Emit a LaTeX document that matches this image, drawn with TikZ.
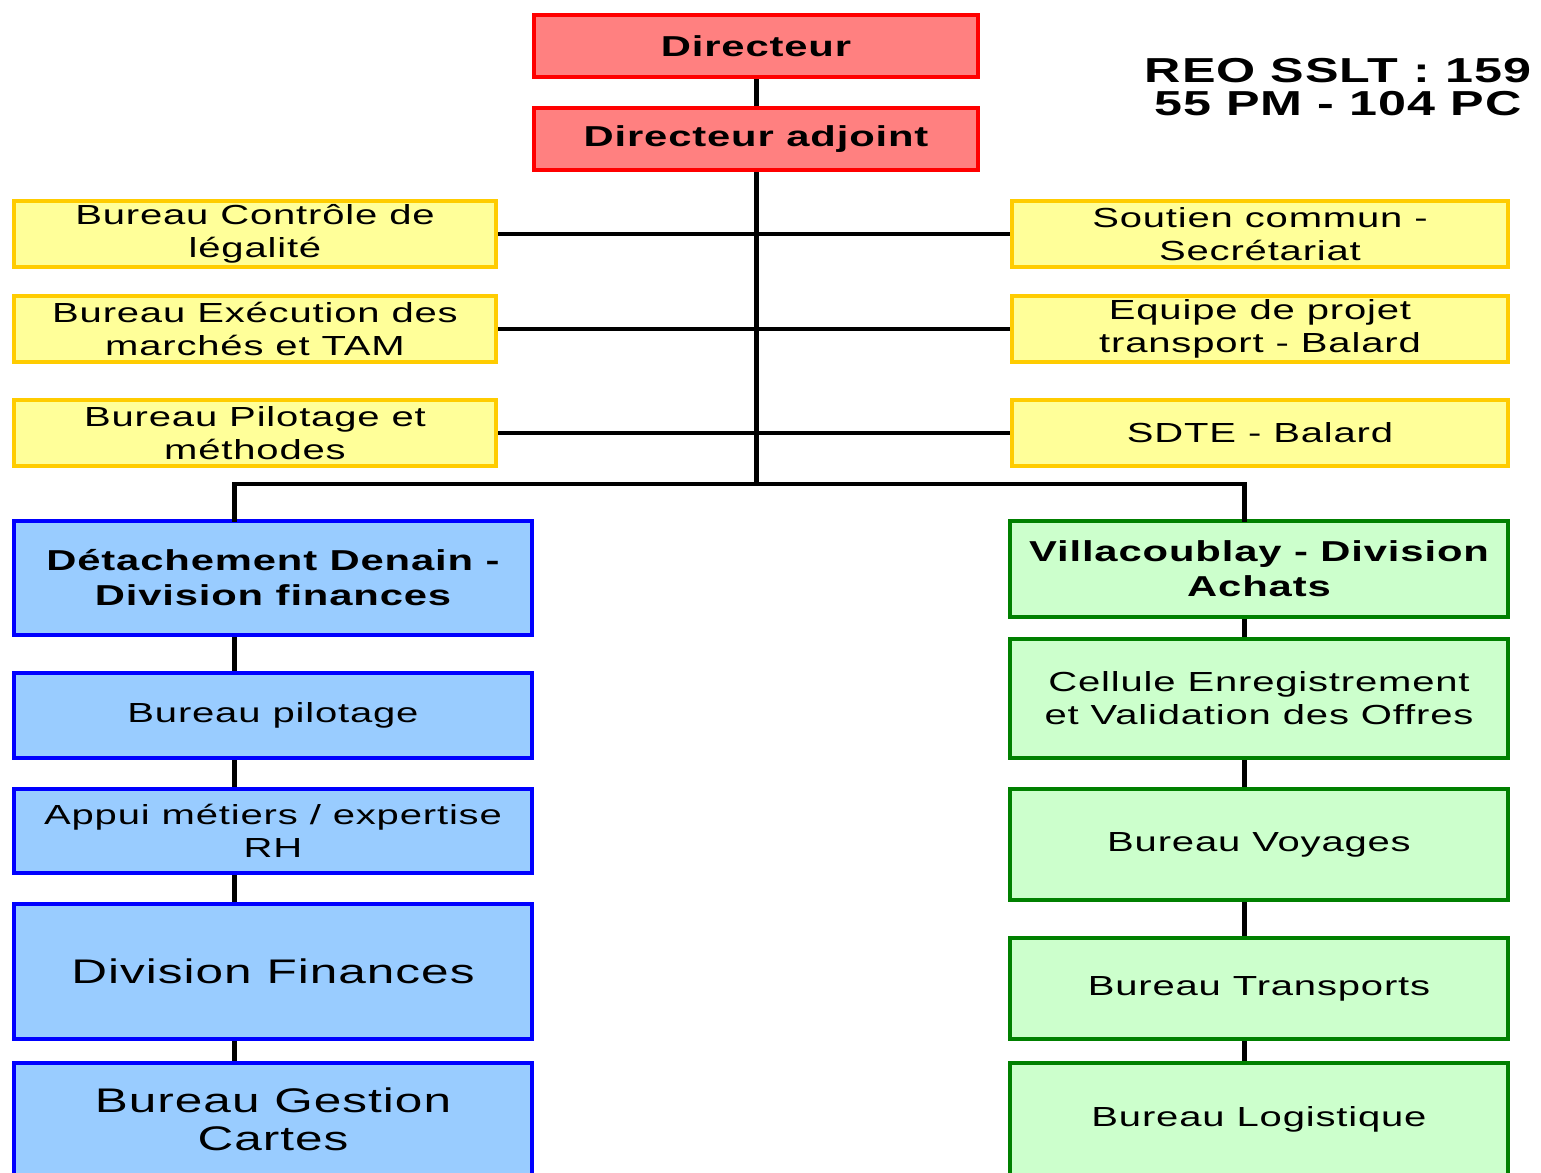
\documentclass[tikz,border=0pt]{standalone}
\usepackage{fontspec}
\setmainfont{Liberation Sans}[FakeStretch=1.45,LetterSpace=3]
\usetikzlibrary{positioning}
\definecolor{rougeclair}{HTML}{FF8080}
\definecolor{jaune}{HTML}{FFFF99}
\definecolor{orjaune}{HTML}{FFCC00}
\definecolor{bleuclair}{HTML}{99CCFF}
\definecolor{vertclair}{HTML}{CCFFCC}
\definecolor{vertfonce}{HTML}{008000}

\begin{document}
\begin{tikzpicture}[x=0.75pt, y=-0.75pt,
    boite/.style = {draw, rectangle, line width=3pt, inner sep=0pt, align=center,
                    font=\fontsize{20.7}{24.75}\selectfont},
    chef/.style = {boite, draw=red, fill=rougeclair, minimum width=333pt, minimum height=46.5pt,
                   font=\fontsize{21.6}{25}\selectfont\bfseries},
    gauche/.style = {boite, draw=orjaune, fill=jaune, minimum width=361.5pt, minimum height=49.5pt},
    droite/.style = {boite, draw=orjaune, fill=jaune, minimum width=372pt, minimum height=49.5pt},
    bleu/.style = {boite, draw=blue, fill=bleuclair, minimum width=388.5pt},
    vert/.style = {boite, draw=vertfonce, fill=vertclair, minimum width=373.5pt},
    grand/.style = {font=\fontsize{25.6}{28.5}\selectfont},
    gras/.style = {font=\fontsize{21.6}{26.25}\selectfont\bfseries},
    lien/.style = {line width=3.75pt},
    trait/.style = {line width=2.6pt}]
                            \useasboundingbox (0,0) rectangle (1541,1172);
                            \clip (0,0) rectangle (1541,1172);

                            \node[chef] (dir) at (756,46) {Directeur};
                            \node[chef] (adj) at (756,139) {Directeur adjoint};
                            \node[font=\fontsize{26}{24.75}\selectfont\bfseries, align=center] (reo) at (1338,87)
                                {REO SSLT : 159\\55 PM - 104 PC};

                            \node[gauche] (legal) at (255,234) {Bureau Contrôle de\\légalité};
                            \node[gauche] (exec) at (255,329) {Bureau Exécution des\\marchés et TAM};
                            \node[gauche] (pilmeth) at (255,433) {Bureau Pilotage et\\méthodes};
                            \node[droite] (secr) at (1260,234) {Soutien commun -\\Secrétariat};
                            \node[droite] (projet) at (1260,329) {Equipe de projet\\transport - Balard};
                            \node[droite] (sdte) at (1260,433) {SDTE - Balard};

                            \node[bleu, gras, minimum height=85.5pt] (denain) at (273,578) {Détachement Denain -\\Division finances};
                            \node[bleu, minimum height=63.75pt] (pilot) at (273,715.5) {Bureau pilotage};
                            \node[bleu, minimum height=63pt] (appui) at (273,831) {Appui métiers / expertise\\RH};
                            \node[bleu, grand, minimum height=101.25pt] (divfin) at (273,971.5) {Division Finances};
                            \node[bleu, grand, minimum height=84pt] (cartes) at (273,1119) {Bureau Gestion\\Cartes};

                            \node[vert, gras, minimum height=72pt] (villa) at (1259,569) {Villacoublay - Division\\Achats};
                            \node[vert, minimum height=89.25pt] (cevo) at (1259,698.5) {Cellule Enregistrement\\et Validation des Offres};
                            \node[vert, minimum height=83.25pt] (voyages) at (1259,844.5) {Bureau Voyages};
                            \node[vert, minimum height=75.75pt] (transp) at (1259,988.5) {Bureau Transports};
                            \node[vert, minimum height=84pt] (logist) at (1259,1119) {Bureau Logistique};

                            \coordinate (bus) at (756,484);
                            \coordinate (colb) at (234,484);
                            \coordinate (colv) at (1244,484);

                            \draw[lien] (dir) to (adj);
                            \draw[lien] (adj) to (bus);
                            \draw[trait] (legal) to (secr);
                            \draw[trait] (exec) to (projet);
                            \draw[trait] (pilmeth) to (sdte);
                            \draw[trait] (colb) to (colv);
                            \draw[lien, line cap=rect] (denain.north -| colb) to (colb);
                            \draw[lien, line cap=rect] (villa.north -| colv) to (colv);

                            \draw[lien] (denain.south -| colb) to (pilot.north -| colb);
                            \draw[lien] (pilot.south -| colb) to (appui.north -| colb);
                            \draw[lien] (appui.south -| colb) to (divfin.north -| colb);
                            \draw[lien] (divfin.south -| colb) to (cartes.north -| colb);

                            \draw[lien] (villa.south -| colv) to (cevo.north -| colv);
                            \draw[lien] (cevo.south -| colv) to (voyages.north -| colv);
                            \draw[lien] (voyages.south -| colv) to (transp.north -| colv);
                            \draw[lien] (transp.south -| colv) to (logist.north -| colv);
                        \end{tikzpicture}
\end{document}
